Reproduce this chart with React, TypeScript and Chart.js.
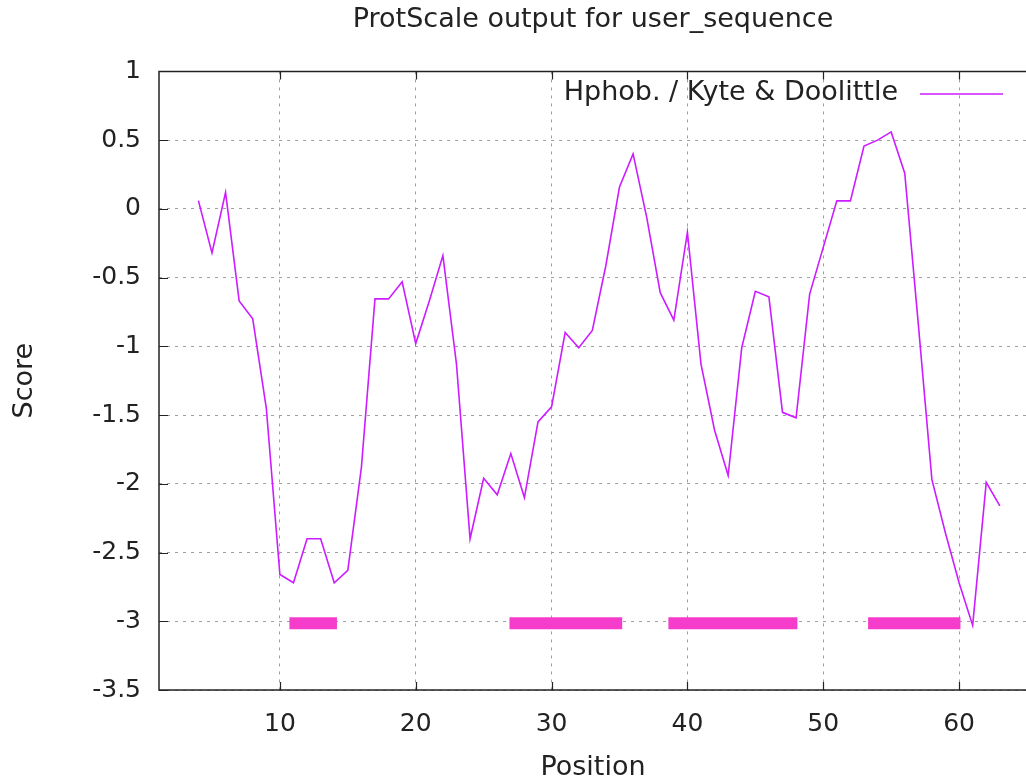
import React, { useEffect, useRef } from "react";
import { Chart, registerables } from "chart.js";

Chart.register(...registerables);

const positions = [4,5,6,7,8,9,10,11,12,13,14,15,16,17,18,19,20,21,22,23,24,25,26,27,28,29,30,31,32,33,34,35,36,37,38,39,40,41,42,43,44,45,46,47,48,49,50,51,52,53,54,55,56,57,58,59,60,61,62,63];
const scores = [0.06,-0.32,0.12,-0.67,-0.80,-1.45,-2.66,-2.72,-2.40,-2.40,-2.72,-2.63,-1.88,-0.655,-0.655,-0.53,-0.98,-0.67,-0.34,-1.13,-2.40,-1.96,-2.08,-1.78,-2.10,-1.55,-1.44,-0.90,-1.01,-0.885,-0.41,0.16,0.40,-0.06,-0.61,-0.81,-0.17,-1.13,-1.61,-1.94,-1.01,-0.60,-0.64,-1.48,-1.52,-0.62,-0.28,0.058,0.058,0.457,0.50,0.56,0.26,-0.84,-1.97,-2.36,-2.72,-3.03,-1.99,-2.16];

const regionStarts = [10.7, 26.9, 38.6, 53.3];
const regionEnds = [14.2, 35.2, 48.1, 60.1];
const regionLevel = -3.015;

const xTicks = [10, 20, 30, 40, 50, 60];
const yTicks = [1, 0.5, 0, -0.5, -1, -1.5, -2, -2.5, -3, -3.5];

const seriesLabel = "Hphob. / Kyte & Doolittle";
const titleText = "ProtScale output for user_sequence";
const xTitle = "Position";
const yTitle = "Score";

const FONT = "DejaVu Sans";
const TEXT = "#222222";
const LINE = "#cc1cff";
const REGION = "#f63ccb";

const framePlugin = {
  id: "frame",
  afterDraw(chart: any) {
    const { ctx, chartArea } = chart;
    const { left, right, top, bottom } = chartArea;
    const xs = chart.scales.x;
    const ys = chart.scales.y;
    ctx.save();
    ctx.strokeStyle = "#222";
    ctx.lineWidth = 1.5;
    ctx.beginPath();
    ctx.moveTo(right + 2, top);
    ctx.lineTo(left, top);
    ctx.lineTo(left, bottom);
    ctx.lineTo(right + 2, bottom);
    ctx.stroke();
    ctx.lineWidth = 1.2;
    ctx.beginPath();
    xTicks.forEach((v) => {
      const px = Math.round(xs.getPixelForValue(v)) + 0.5;
      ctx.moveTo(px, bottom);
      ctx.lineTo(px, bottom - 8);
      ctx.moveTo(px, top);
      ctx.lineTo(px, top + 8);
    });
    yTicks.forEach((v) => {
      const py = Math.round(ys.getPixelForValue(v)) + 0.5;
      ctx.moveTo(left, py);
      ctx.lineTo(left + 9, py);
    });
    ctx.stroke();
    // legend (sample to the right of the text, as in the reference)
    const ds = chart.data.datasets[0];
    ctx.font = `27px "${FONT}"`;
    ctx.fillStyle = TEXT;
    ctx.textAlign = "right";
    ctx.textBaseline = "middle";
    ctx.fillText(ds.label, 898, 93);
    ctx.strokeStyle = ds.borderColor;
    ctx.lineWidth = 1.6;
    ctx.beginPath();
    ctx.moveTo(920, 94);
    ctx.lineTo(1003, 94);
    ctx.stroke();
    ctx.restore();
  },
};

export default function App() {
  const ref = useRef<HTMLCanvasElement | null>(null);
  useEffect(() => {
    if (!ref.current) return;
    const mainData = positions.map((p, i) => ({ x: p, y: scores[i] }));
    const regionSets = regionStarts.map((s, i) => ({
      label: "region" + (i + 1),
      data: [
        { x: s, y: regionLevel },
        { x: regionEnds[i], y: regionLevel },
      ],
      borderColor: REGION,
      backgroundColor: REGION,
      borderWidth: 12,
      borderCapStyle: "butt" as const,
      pointRadius: 0,
      fill: false,
    }));
    const chart = new Chart(ref.current, {
      type: "line",
      data: {
        datasets: [
          {
            label: seriesLabel,
            data: mainData,
            borderColor: LINE,
            backgroundColor: LINE,
            borderWidth: 1.6,
            pointRadius: 0,
            tension: 0,
            fill: false,
          },
          ...regionSets,
        ],
      },
      options: {
        animation: false,
        responsive: false,
        devicePixelRatio: 1,
        layout: { padding: 0 },
        plugins: {
          legend: { display: false },
          tooltip: { enabled: false },
          title: {
            display: true,
            text: titleText,
            fullSize: false,
            color: TEXT,
            font: { family: FONT, size: 27, weight: "normal", lineHeight: 1.2 },
            padding: { top: 4, bottom: 35 },
          },
        },
        scales: {
          x: {
            type: "linear",
            min: 1.1,
            max: 65,
            afterFit: (s: any) => {
              s.height = 91;
            },
            afterBuildTicks: (s: any) => {
              s.ticks = xTicks.map((v) => ({ value: v }));
            },
            grid: { color: "#a0a0a0", lineWidth: 1, drawTicks: false },
            border: { display: false, dash: [3, 5] },
            ticks: {
              color: TEXT,
              font: { family: FONT, size: 25 },
              padding: 19,
              maxRotation: 0,
              autoSkip: false,
              callback: (v: any) => String(v),
            },
            title: {
              display: true,
              text: xTitle,
              color: TEXT,
              font: { family: FONT, size: 27, lineHeight: 1 },
              padding: { top: 0, bottom: 0 },
            },
          },
          y: {
            type: "linear",
            min: -3.5,
            max: 1,
            afterFit: (s: any) => {
              s.width = 159;
            },
            afterBuildTicks: (s: any) => {
              s.ticks = yTicks.map((v) => ({ value: v }));
            },
            grid: { color: "#a0a0a0", lineWidth: 1, drawTicks: false },
            border: { display: false, dash: [3, 5] },
            ticks: {
              color: TEXT,
              font: { family: FONT, size: 25 },
              padding: 18,
              autoSkip: false,
              callback: (v: any) => String(v),
            },
            title: {
              display: true,
              text: yTitle,
              color: TEXT,
              font: { family: FONT, size: 27, lineHeight: 1.2 },
              padding: { top: 9, bottom: 0 },
            },
          },
        },
      },
      plugins: [framePlugin],
    });
    return () => chart.destroy();
  }, []);
  return (
    <div style={{ position: "fixed", left: 0, top: 0, width: 1027, height: 781, background: "#fff" }}>
      <canvas ref={ref} width={1027} height={781} style={{ display: "block" }} />
    </div>
  );
}
